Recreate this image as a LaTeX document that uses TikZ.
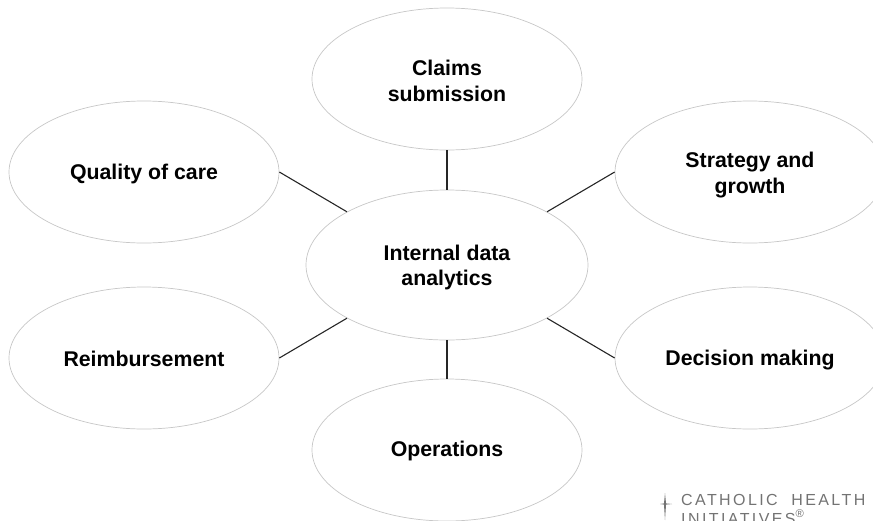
\documentclass[tikz,border=0pt]{standalone}
\usepackage{fontspec}
\setmainfont{Liberation Sans}
\newfontfamily\logofont[LetterSpace=15,WordSpace=2]{Liberation Sans}
\usetikzlibrary{shapes.geometric}
\definecolor{rimgray}{gray}{0.78}
\definecolor{linkgray}{gray}{0.15}
\definecolor{logogray}{gray}{0.45}
\tikzset{
  bubble/.style={ellipse,draw=rimgray,line width=0.7pt,fill=white,inner sep=0pt,minimum width=270pt,minimum height=142pt},
  hub/.style={bubble,minimum width=282pt,minimum height=150pt},
  caption/.style={inner sep=0pt,align=center,font=\fontsize{21.3}{25.7}\selectfont\bfseries,text=black},
  link/.style={draw=linkgray,line width=1.1pt},
  logotext/.style={anchor=base west,inner sep=0pt,text=logogray,font=\fontsize{16}{16}\logofont}
}
\begin{document}
\begin{tikzpicture}[x=1pt,y=-1pt]
\useasboundingbox (0,0) rectangle (873,520);
\clip (0,0) rectangle (873,520);
\node[hub] (hub) at (447,265) {};
\node[bubble] (claims) at (447,79) {};
\node[bubble] (quality) at (144,172) {};
\node[bubble] (strategy) at (750,172) {};
\node[bubble] (reimb) at (144,358) {};
\node[bubble] (decision) at (750,358) {};
\node[bubble] (ops) at (447,450) {};
\node[caption] (hubtext) at (447,267.5) {Internal data\\analytics};
\node[caption] (claimstext) at (447,81) {Claims\\submission};
\node[caption] (qualitytext) at (144,174) {Quality of care};
\node[caption] (strategytext) at (750,175) {Strategy and\\growth};
\node[caption] (reimbtext) at (144,358.5) {Reimbursement};
\node[caption] (decisiontext) at (750,360.5) {Decision making};
\node[caption] (opstext) at (447,451) {Operations};
\draw[link] (hub.north) -- (claims.south);
\draw[link] (hub.south) -- (ops.north);
\draw[link] (hub.152) -- (quality.east);
\draw[link] (hub.28) -- (strategy.west);
\draw[link] (hub.208) -- (reimb.east);
\draw[link] (hub.332) -- (decision.west);
\node[logotext] (logoa) at (681,505) {CATHOLIC HEALTH};
\node[logotext] (logob) at (681,524) {INITIATIVES\textsuperscript{®}};
\fill[logogray] (665,493) -- (666,503.4) -- (672,504) -- (666,504.6) -- (665,520) -- (664,504.6) -- (660,504) -- (664,503.4) -- cycle;
\end{tikzpicture}
\end{document}
